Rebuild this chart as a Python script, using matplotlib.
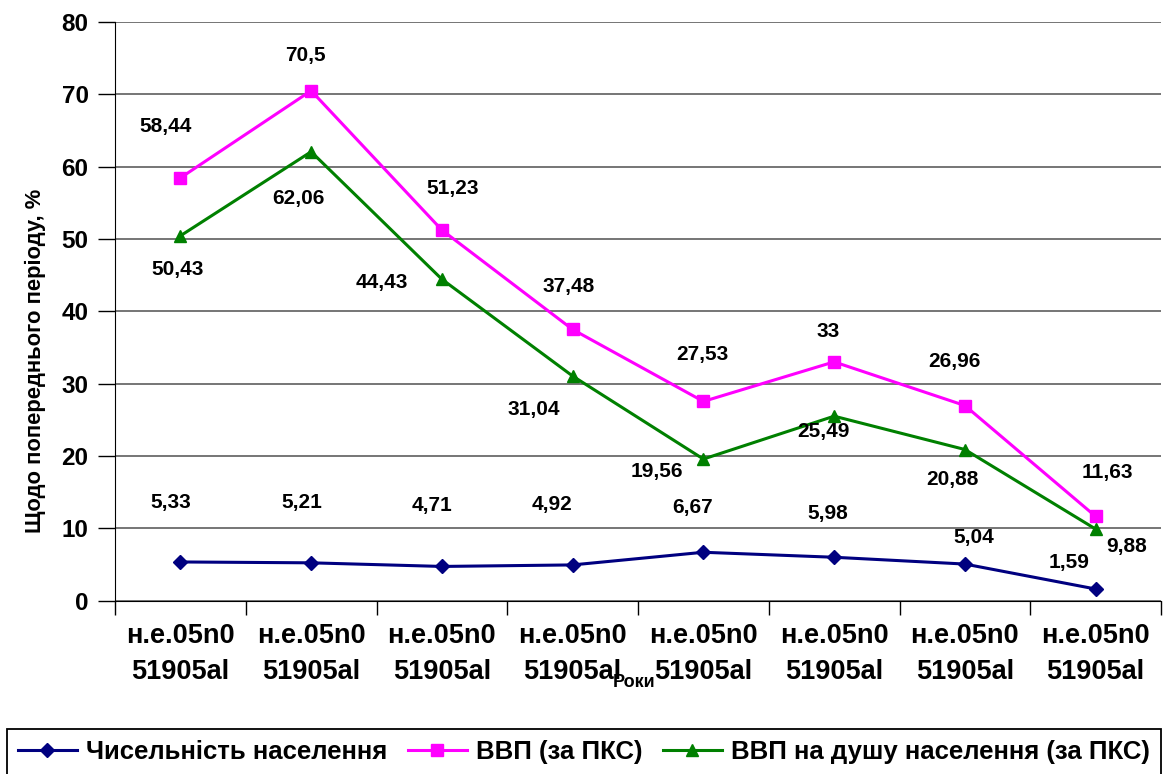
import numpy as np
import matplotlib
matplotlib.use("Agg")
import matplotlib.pyplot as plt

plt.rcParams['font.family'] = ['Liberation Sans', 'DejaVu Sans']
plt.rcParams['font.weight'] = 'bold'

years = ["н.е.05n0\n51905al"] * 8
population = [5.33, 5.21, 4.71, 4.92, 6.67, 5.98, 5.04, 1.59]
gdp = [58.44, 70.5, 51.23, 37.48, 27.53, 33, 26.96, 11.63]
gdp_pc = [50.43, 62.06, 44.43, 31.04, 19.56, 25.49, 20.88, 9.88]

names = ["Чисельність населення", "ВВП (за ПКС)", "ВВП на душу населення (за ПКС)"]

# label offsets in pixels (dx, dy up)
off_pop = [(-10, 59), (-9, 60), (-10, 61), (-21, 60), (-11, 45), (-6, 44), (9, 27), (-27, 27)]
off_gdp = [(-15, 51), (-6, 35), (11, 42), (-4, 43), (-1, 47), (-6, 30), (-10, 44), (12, 44)]
off_pc = [(-3, -34), (-13, -47), (-60, -3), (-39, -33), (-47, -12), (-11, -15), (-12, -30), (31, -17)]

fig = plt.figure(figsize=(11.71, 7.74), dpi=100)
ax = fig.add_axes([115/1171, 1-600.5/774, (1161-115)/1171, (600.5-22)/774])

x = np.arange(len(years))
l1, = ax.plot(x, population, color='#000080', lw=2.2, marker='D', ms=7.5, label=names[0])
l2, = ax.plot(x, gdp, color='#FF00FF', lw=2.2, marker='s', ms=8.5, label=names[1])
l3, = ax.plot(x, gdp_pc, color='#008000', lw=2.2, marker='^', ms=9, label=names[2])

def fmt(v):
    return f"{v:g}".replace('.', ',')

for vals, offs in [(population, off_pop), (gdp, off_gdp), (gdp_pc, off_pc)]:
    for i, v in enumerate(vals):
        ax.annotate(fmt(v), (x[i], v), xytext=offs[i], textcoords='offset pixels',
                    ha='center', va='center', fontsize=15, fontweight='bold')

ax.set_xlim(-0.5, len(years) - 0.5)
ax.set_ylim(0, 80)
ax.set_yticks(range(0, 81, 10))
ax.set_xticks(x)
ax.set_xticklabels(years, fontsize=19.5, linespacing=1.5)
ax.set_xticks(np.arange(-0.5, len(years), 1), minor=True)
ax.tick_params(axis='x', which='major', length=0, pad=16.5)
ax.tick_params(axis='x', which='minor', length=10, width=1, direction='out')
ax.tick_params(axis='y', length=12, width=1, direction='out', pad=7, labelsize=17.5)
for t in ax.get_yticklabels():
    t.set_fontweight('bold')

ax.grid(axis='y', color='#505050', lw=1.1)
ax.set_axisbelow(True)
ax.spines['top'].set_visible(False)
ax.spines['right'].set_visible(False)

ax.set_ylabel("Щодо попереднього періоду, %", fontsize=15.8, fontweight='bold')
ax.yaxis.set_label_coords(-0.0765, 0.414)
ax.yaxis.label.set_va('center')
ax.set_xlabel("Роки", fontsize=13, fontweight='bold')
ax.xaxis.set_label_coords(0.496, -0.141)
ax.xaxis.label.set_va('center')

fig.legend(handles=[l1, l2, l3], loc='upper center', bbox_to_anchor=(0.4985, 1-729/774),
           ncol=3, fontsize=18.5, frameon=True, fancybox=False, edgecolor='black',
           framealpha=1, handlelength=2.3, handletextpad=0.35, columnspacing=0.8,
           borderpad=0.42, borderaxespad=0)
fig.legends[0].get_frame().set_linewidth(1.3)

fig.savefig("out.png", dpi=100)
